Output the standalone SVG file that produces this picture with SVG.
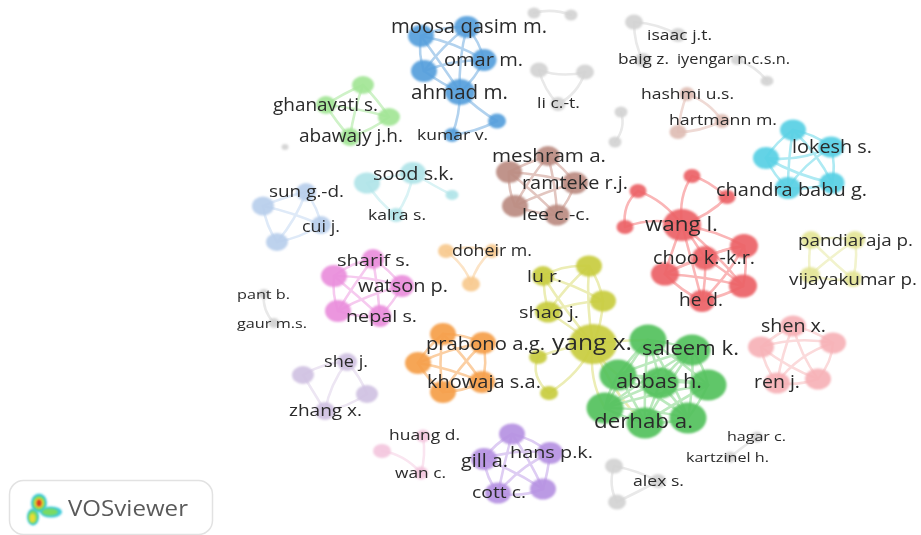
<svg xmlns="http://www.w3.org/2000/svg" width="921" height="535" viewBox="0 0 921 535">
<style>
text{font-family:"Open Sans","Liberation Sans",sans-serif;fill:#2a2a2a;filter:url(#t)}
ellipse{filter:url(#n);fill-opacity:.93}
#connectors{filter:url(#e)}
#connectors path{fill:none;stroke-width:2.6;stroke-linecap:round}
.blue path{stroke:#b2d2ee}.lgreen path{stroke:#cff2c8}.lcyan path{stroke:#daf3f5}.lblue path{stroke:#dfeaf8}
.brown path{stroke:#e2c6c0}.gray path{stroke:#e9e9e9}.rose path{stroke:#efdad5}.cyan path{stroke:#aeeaf3}
.red path{stroke:#fab6b7}.pale path{stroke:#f2f3cd}.olive path{stroke:#ecedb5}.green path{stroke:#bce9be}
.pink path{stroke:#fbdadb}.mag path{stroke:#f6caef}.lor path{stroke:#fce4c7}.or path{stroke:#fbcfa3}
.lav path{stroke:#ede6f3}.lp path{stroke:#fae5f0}.pur path{stroke:#decdf3}
.n-blue{fill:#559fdb}.n-lgreen{fill:#a2e596}.n-lcyan{fill:#b0e4e8}.n-lblue{fill:#b8cfec}.n-brown{fill:#bb8c82}
.n-gray{fill:#d3d3d3}.n-rose{fill:#dfbdb5}.n-cyan{fill:#57d0e4}.n-red{fill:#ec6266}.n-pale{fill:#e4e598}
.n-olive{fill:#c8cc3f}.n-green{fill:#54c25e}.n-pink{fill:#f6b2b7}.n-mag{fill:#ea8edb}.n-lor{fill:#f7c98f}
.n-or{fill:#f59f49}.n-lav{fill:#d0c2e2}.n-lp{fill:#f3c6de}.n-pur{fill:#b692e2}
</style>
<defs>
<filter id="n" filterUnits="userSpaceOnUse" x="0" y="0" width="921" height="535"><feGaussianBlur stdDeviation="0.8"/></filter>
<filter id="e" filterUnits="userSpaceOnUse" x="0" y="0" width="921" height="535"><feGaussianBlur stdDeviation="0.7"/></filter>
<filter id="t" filterUnits="userSpaceOnUse" x="0" y="0" width="921" height="535"><feGaussianBlur stdDeviation="0.35"/></filter>
</defs>
<g id="connectors">
<g class="blue">
<path d="M421 36Q444 26 467 27"/><path d="M421 36Q418 54 424 71"/><path d="M421 36Q455 42 484 60"/><path d="M421 36Q440 62 460 92"/><path d="M467 27Q480 42 484 60"/><path d="M467 27Q442 46 424 71"/><path d="M467 27Q458 60 460 92"/><path d="M484 60Q452 60 424 71"/><path d="M484 60Q476 78 460 92"/><path d="M424 71Q442 84 460 92"/><path d="M460 92Q478 110 497 121"/><path d="M460 92Q460 115 452 135"/><path d="M452 135Q476 132 497 121"/>
</g>
<g class="lgreen">
<path d="M363 85Q342 94 326 105"/><path d="M363 85Q378 100 389 117"/><path d="M363 85Q354 110 350 137"/><path d="M326 105Q358 108 389 117"/><path d="M326 105Q336 122 350 137"/><path d="M389 117Q372 130 350 137"/>
</g>
<g class="lcyan">
<path d="M413 173Q390 176 367 183"/><path d="M413 173Q434 186 452 195"/><path d="M413 173Q410 196 396 215"/><path d="M367 183Q378 202 396 215"/>
</g>
<g class="lblue">
<path d="M306 192Q284 197 263 206"/><path d="M306 192Q318 208 321 225"/><path d="M306 192Q296 220 277 242"/><path d="M263 206Q292 212 321 225"/><path d="M263 206Q266 226 277 242"/><path d="M321 225Q300 238 277 242"/>
</g>
<g class="brown">
<path d="M548 156Q528 162 509 172"/><path d="M548 156Q564 168 575 183"/><path d="M548 156Q528 180 515 206"/><path d="M548 156Q556 186 557 215"/><path d="M509 172Q542 174 575 183"/><path d="M509 172Q508 190 515 206"/><path d="M509 172Q534 192 557 215"/><path d="M575 183Q544 192 515 206"/><path d="M575 183Q570 200 557 215"/><path d="M515 206Q536 214 557 215"/>
</g>
<g class="gray">
<path d="M534 13Q552 8 571 15"/><path d="M539 70Q562 78 585 72"/><path d="M539 70Q544 90 558 104"/><path d="M585 72Q578 94 558 104"/><path d="M634 22Q660 24 678 35"/><path d="M634 22Q634 44 643 60"/><path d="M737 60Q756 66 767 81"/><path d="M621 112Q626 128 615 142"/><path d="M264 294Q262 310 274 323"/><path d="M757 437Q744 446 730 457"/><path d="M614 466Q636 470 658 481"/><path d="M614 466Q608 486 617 502"/><path d="M658 481Q638 492 617 502"/>
</g>
<g class="rose">
<path d="M687 94Q710 102 722 121"/><path d="M687 94Q680 112 678 132"/><path d="M722 121Q700 132 678 132"/>
</g>
<g class="cyan">
<path d="M793 130Q815 134 831 147"/><path d="M793 130Q776 142 766 158"/><path d="M793 130Q818 154 832 183"/><path d="M793 130Q788 160 788 188"/><path d="M831 147Q800 162 766 158"/><path d="M831 147Q836 166 832 183"/><path d="M831 147Q804 164 788 188"/><path d="M766 158Q798 176 832 183"/><path d="M766 158Q774 176 788 188"/><path d="M832 183Q810 190 788 188"/>
</g>
<g class="red">
<path d="M692 176Q708 180 727 197"/><path d="M692 176Q678 196 682 225"/><path d="M638 191Q622 204 625 227"/><path d="M638 191Q664 200 682 225"/><path d="M727 197Q710 215 682 225"/><path d="M625 227Q654 216 682 225"/><path d="M682 225Q716 230 744 246"/><path d="M682 225Q694 240 705 258"/><path d="M682 225Q672 250 665 274"/><path d="M682 225Q716 252 743 286"/><path d="M682 225Q692 262 702 301"/><path d="M744 246Q724 248 705 258"/><path d="M744 246Q702 254 665 274"/><path d="M744 246Q748 266 743 286"/><path d="M744 246Q728 276 702 301"/><path d="M705 258Q684 264 665 274"/><path d="M705 258Q724 270 743 286"/><path d="M705 258Q706 280 702 301"/><path d="M665 274Q704 276 743 286"/><path d="M665 274Q680 290 702 301"/><path d="M743 286Q724 296 702 301"/>
</g>
<g class="pale">
<path d="M811 240Q808 258 810 275"/><path d="M811 240Q832 262 853 279"/><path d="M811 240Q834 236 855 240"/><path d="M855 240Q832 256 810 275"/><path d="M855 240Q858 260 853 279"/><path d="M810 275Q832 282 853 279"/>
</g>
<g class="olive">
<path d="M543 276Q564 264 589 266"/><path d="M543 276Q574 284 603 301"/><path d="M543 276Q544 294 548 312"/><path d="M543 276Q566 312 593 344"/><path d="M589 266Q600 282 603 301"/><path d="M589 266Q566 286 548 312"/><path d="M589 266Q586 306 593 344"/><path d="M603 301Q574 302 548 312"/><path d="M603 301Q602 324 593 344"/><path d="M548 312Q570 326 593 344"/><path d="M593 344Q566 346 538 357"/><path d="M593 344Q580 374 549 393"/><path d="M538 357Q530 376 549 393"/><path d="M593 344Q620 340 648 340"/><path d="M593 344Q588 380 605 408"/><path d="M593 344Q600 362 618 375"/><path d="M593 344Q612 395 645 423"/>
</g>
<g class="green">
<path d="M648 340Q670 342 692 350"/><path d="M648 340Q632 356 618 375"/><path d="M648 340Q656 362 660 383"/><path d="M648 340Q680 360 708 385"/><path d="M648 340Q624 372 605 408"/><path d="M648 340Q644 382 645 423"/><path d="M648 340Q672 378 688 418"/><path d="M692 350Q654 360 618 375"/><path d="M692 350Q674 364 660 383"/><path d="M692 350Q704 366 708 385"/><path d="M692 350Q648 376 605 408"/><path d="M692 350Q666 386 645 423"/><path d="M692 350Q694 384 688 418"/><path d="M618 375Q640 376 660 383"/><path d="M618 375Q664 376 708 385"/><path d="M618 375Q608 392 605 408"/><path d="M618 375Q634 400 645 423"/><path d="M618 375Q656 394 688 418"/><path d="M660 383Q684 380 708 385"/><path d="M660 383Q632 392 605 408"/><path d="M660 383Q652 404 645 423"/><path d="M660 383Q676 400 688 418"/><path d="M708 385Q656 392 605 408"/><path d="M708 385Q676 402 645 423"/><path d="M708 385Q700 402 688 418"/><path d="M605 408Q624 418 645 423"/><path d="M605 408Q646 408 688 418"/><path d="M645 423Q666 424 688 418"/>
</g>
<g class="pink">
<path d="M793 326Q776 334 761 347"/><path d="M793 326Q814 330 833 343"/><path d="M793 326Q800 354 818 379"/><path d="M793 326Q782 354 777 383"/><path d="M761 347Q796 336 833 343"/><path d="M761 347Q788 368 818 379"/><path d="M761 347Q764 366 777 383"/><path d="M833 343Q832 362 818 379"/><path d="M833 343Q798 354 777 383"/><path d="M818 379Q798 386 777 383"/>
</g>
<g class="mag">
<path d="M373 259Q352 262 334 276"/><path d="M373 259Q390 270 402 286"/><path d="M373 259Q354 284 338 311"/><path d="M373 259Q378 288 380 316"/><path d="M334 276Q368 276 402 286"/><path d="M334 276Q332 294 338 311"/><path d="M334 276Q358 296 380 316"/><path d="M402 286Q368 294 338 311"/><path d="M402 286Q394 302 380 316"/><path d="M338 311Q360 318 380 316"/>
</g>
<g class="lor">
<path d="M446 251Q468 244 492 251"/><path d="M446 251Q466 266 471 284"/><path d="M492 251Q476 264 471 284"/>
</g>
<g class="or">
<path d="M443 334Q464 334 483 343"/><path d="M443 334Q428 346 418 363"/><path d="M443 334Q464 356 482 382"/><path d="M443 334Q438 364 443 392"/><path d="M483 343Q450 348 418 363"/><path d="M483 343Q488 364 482 382"/><path d="M483 343Q460 366 443 392"/><path d="M418 363Q450 368 482 382"/><path d="M418 363Q428 380 443 392"/><path d="M482 382Q462 392 443 392"/>
</g>
<g class="lav">
<path d="M347 362Q324 362 303 375"/><path d="M347 362Q360 376 367 394"/><path d="M347 362Q330 384 325 411"/><path d="M303 375Q316 396 325 411"/><path d="M367 394Q346 408 325 411"/>
</g>
<g class="lp">
<path d="M423 436Q426 456 421 473"/><path d="M382 451Q404 454 421 473"/>
</g>
<g class="pur">
<path d="M512 434Q494 444 484 459"/><path d="M512 434Q532 438 550 453"/><path d="M512 434Q530 460 543 489"/><path d="M512 434Q504 464 498 493"/><path d="M484 459Q516 448 550 453"/><path d="M484 459Q514 470 543 489"/><path d="M484 459Q486 478 498 493"/><path d="M550 453Q548 472 543 489"/><path d="M550 453Q520 466 498 493"/><path d="M543 489Q520 498 498 493"/>
</g>
</g>

<g id="nodes">
<g id="n-gray-a"><ellipse class="n-gray" cx="285" cy="147" rx="3.5" ry="3"/></g>
<g id="n-gray-b"><ellipse class="n-gray" cx="534" cy="13" rx="6.5" ry="5.5"/></g>
<g id="n-gray-c"><ellipse class="n-gray" cx="571" cy="15" rx="6.5" ry="5.5"/></g>
<g id="n-gray-d"><ellipse class="n-gray" cx="539" cy="70" rx="9" ry="7.5"/></g>
<g id="n-gray-e"><ellipse class="n-gray" cx="585" cy="72" rx="9" ry="7.5"/></g>
<g id="n-gray-f"><ellipse class="n-gray" cx="634" cy="22" rx="9" ry="7.5"/></g>
<g id="n-gray-g"><ellipse class="n-gray" cx="767" cy="81" rx="6.5" ry="5"/></g>
<g id="n-gray-h"><ellipse class="n-gray" cx="621" cy="112" rx="6.5" ry="5.5"/></g>
<g id="n-gray-i"><ellipse class="n-gray" cx="615" cy="142" rx="6.5" ry="5.5"/></g>
<g id="n-gray-j"><ellipse class="n-gray" cx="614" cy="466" rx="9" ry="7.5"/></g>
<g id="n-gray-k"><ellipse class="n-gray" cx="617" cy="502" rx="9" ry="7.5"/></g>
<g id="n-blue-a"><ellipse class="n-blue" cx="424" cy="71" rx="13" ry="11"/></g>
<g id="n-blue-b"><ellipse class="n-blue" cx="467" cy="27" rx="13" ry="11"/></g>
<g id="n-blue-c"><ellipse class="n-blue" cx="497" cy="121" rx="9" ry="7.5"/></g>
<g id="n-lgreen-a"><ellipse class="n-lgreen" cx="363" cy="85" rx="11" ry="9"/></g>
<g id="n-lgreen-b"><ellipse class="n-lgreen" cx="389" cy="117" rx="11" ry="9"/></g>
<g id="n-lcyan-a"><ellipse class="n-lcyan" cx="367" cy="183" rx="13" ry="10.5"/></g>
<g id="n-lcyan-b"><ellipse class="n-lcyan" cx="452" cy="195" rx="6.5" ry="5"/></g>
<g id="n-lblue-a"><ellipse class="n-lblue" cx="306" cy="192" rx="10" ry="9"/></g>
<g id="n-lblue-b"><ellipse class="n-lblue" cx="263" cy="206" rx="11" ry="9.5"/></g>
<g id="n-lblue-c"><ellipse class="n-lblue" cx="277" cy="242" rx="11" ry="9"/></g>
<g id="n-brown-a"><ellipse class="n-brown" cx="509" cy="172" rx="13" ry="11"/></g>
<g id="n-brown-b"><ellipse class="n-brown" cx="515" cy="206" rx="13" ry="11"/></g>
<g id="n-rose-a"><ellipse class="n-rose" cx="678" cy="132" rx="8.5" ry="7"/></g>
<g id="n-cyan-a"><ellipse class="n-cyan" cx="793" cy="130" rx="13" ry="10.5"/></g>
<g id="n-cyan-b"><ellipse class="n-cyan" cx="766" cy="158" rx="13" ry="11"/></g>
<g id="n-cyan-c"><ellipse class="n-cyan" cx="832" cy="183" rx="12.5" ry="10.5"/></g>
<g id="n-cyan-d"><ellipse class="n-cyan" cx="788" cy="188" rx="13" ry="11"/></g>
<g id="n-red-a"><ellipse class="n-red" cx="692" cy="176" rx="8.5" ry="7"/></g>
<g id="n-red-b"><ellipse class="n-red" cx="638" cy="191" rx="8.5" ry="7"/></g>
<g id="n-red-c"><ellipse class="n-red" cx="727" cy="197" rx="8.5" ry="7"/></g>
<g id="n-red-d"><ellipse class="n-red" cx="625" cy="227" rx="8.5" ry="7"/></g>
<g id="n-red-e"><ellipse class="n-red" cx="744" cy="246" rx="14" ry="12"/></g>
<g id="n-red-f"><ellipse class="n-red" cx="665" cy="274" rx="14" ry="11.5"/></g>
<g id="n-red-g"><ellipse class="n-red" cx="743" cy="286" rx="14" ry="11.5"/></g>
<g id="n-pale-a"><ellipse class="n-pale" cx="853" cy="279" rx="9" ry="8"/></g>
<g id="n-pale-b"><ellipse class="n-pale" cx="811" cy="240" rx="10" ry="9"/></g>
<g id="n-pale-c"><ellipse class="n-pale" cx="855" cy="240" rx="10" ry="9"/></g>
<g id="n-olive-a"><ellipse class="n-olive" cx="589" cy="266" rx="13" ry="10.5"/></g>
<g id="n-olive-b"><ellipse class="n-olive" cx="603" cy="301" rx="13" ry="10.5"/></g>
<g id="n-olive-c"><ellipse class="n-olive" cx="538" cy="357" rx="9" ry="7"/></g>
<g id="n-olive-d"><ellipse class="n-olive" cx="549" cy="393" rx="9" ry="7"/></g>
<g id="n-green-a"><ellipse class="n-green" cx="648" cy="340" rx="18.5" ry="15.5"/></g>
<g id="n-green-b"><ellipse class="n-green" cx="618" cy="375" rx="18.5" ry="15.5"/></g>
<g id="n-green-c"><ellipse class="n-green" cx="708" cy="385" rx="18.5" ry="15.5"/></g>
<g id="n-green-d"><ellipse class="n-green" cx="605" cy="408" rx="18.5" ry="15.5"/></g>
<g id="n-green-e"><ellipse class="n-green" cx="688" cy="418" rx="18.5" ry="15.5"/></g>
<g id="n-pink-a"><ellipse class="n-pink" cx="761" cy="347" rx="13" ry="10.5"/></g>
<g id="n-pink-b"><ellipse class="n-pink" cx="833" cy="343" rx="13" ry="10.5"/></g>
<g id="n-pink-c"><ellipse class="n-pink" cx="818" cy="379" rx="13" ry="10.5"/></g>
<g id="n-mag-a"><ellipse class="n-mag" cx="334" cy="276" rx="13" ry="11"/></g>
<g id="n-mag-b"><ellipse class="n-mag" cx="338" cy="311" rx="13" ry="11"/></g>
<g id="n-lor-a"><ellipse class="n-lor" cx="446" cy="251" rx="8" ry="7"/></g>
<g id="n-lor-b"><ellipse class="n-lor" cx="492" cy="251" rx="7" ry="7"/></g>
<g id="n-lor-c"><ellipse class="n-lor" cx="471" cy="284" rx="9" ry="7.5"/></g>
<g id="n-or-a"><ellipse class="n-or" cx="443" cy="334" rx="13" ry="11"/></g>
<g id="n-or-b"><ellipse class="n-or" cx="483" cy="343" rx="13" ry="11"/></g>
<g id="n-or-c"><ellipse class="n-or" cx="418" cy="363" rx="13" ry="11"/></g>
<g id="n-or-d"><ellipse class="n-or" cx="482" cy="382" rx="13" ry="11"/></g>
<g id="n-or-e"><ellipse class="n-or" cx="443" cy="392" rx="13" ry="11"/></g>
<g id="n-lav-a"><ellipse class="n-lav" cx="303" cy="375" rx="11" ry="9"/></g>
<g id="n-lav-b"><ellipse class="n-lav" cx="367" cy="394" rx="11" ry="9"/></g>
<g id="n-lp-a"><ellipse class="n-lp" cx="382" cy="451" rx="9" ry="7"/></g>
<g id="n-pur-a"><ellipse class="n-pur" cx="512" cy="434" rx="13" ry="10.5"/></g>
<g id="n-pur-b"><ellipse class="n-pur" cx="543" cy="489" rx="13" ry="10.5"/></g>

<g id="moosa"><ellipse class="n-blue" cx="421" cy="36" rx="13" ry="11"/><text x="391" y="33" font-size="19.5" textLength="156" lengthAdjust="spacingAndGlyphs">moosa qasim m.</text></g>
<g id="omar"><ellipse class="n-blue" cx="484" cy="60" rx="12.5" ry="11"/><text x="444" y="66" font-size="19" textLength="79" lengthAdjust="spacingAndGlyphs">omar m.</text></g>
<g id="ahmad"><ellipse class="n-blue" cx="460" cy="92" rx="15" ry="13"/><text x="411" y="99" font-size="20" textLength="97" lengthAdjust="spacingAndGlyphs">ahmad m.</text></g>
<g id="kumar"><ellipse class="n-blue" cx="452" cy="135" rx="8" ry="7"/><text x="417" y="140" font-size="15" textLength="71" lengthAdjust="spacingAndGlyphs">kumar v.</text></g>
<g id="ghanavati"><ellipse class="n-lgreen" cx="326" cy="105" rx="10" ry="9"/><text x="273" y="111" font-size="18" textLength="105" lengthAdjust="spacingAndGlyphs">ghanavati s.</text></g>
<g id="abawajy"><ellipse class="n-lgreen" cx="350" cy="137" rx="10" ry="9"/><text x="299" y="142" font-size="17.5" textLength="104" lengthAdjust="spacingAndGlyphs">abawajy j.h.</text></g>
<g id="sood"><ellipse class="n-lcyan" cx="413" cy="173" rx="13" ry="11"/><text x="373" y="180" font-size="18.5" textLength="81" lengthAdjust="spacingAndGlyphs">sood s.k.</text></g>
<g id="kalra"><ellipse class="n-lcyan" cx="396" cy="215" rx="8" ry="7"/><text x="368" y="220" font-size="15" textLength="58" lengthAdjust="spacingAndGlyphs">kalra s.</text></g>
<g id="sun"><text x="269" y="197" font-size="16" textLength="75" lengthAdjust="spacingAndGlyphs">sun g.-d.</text></g>
<g id="cui"><ellipse class="n-lblue" cx="321" cy="225" rx="10" ry="9"/><text x="302" y="232" font-size="17" textLength="38" lengthAdjust="spacingAndGlyphs">cui j.</text></g>
<g id="meshram"><ellipse class="n-brown" cx="548" cy="156" rx="12" ry="10"/><text x="492" y="162" font-size="18.5" textLength="114" lengthAdjust="spacingAndGlyphs">meshram a.</text></g>
<g id="ramteke"><ellipse class="n-brown" cx="575" cy="183" rx="13" ry="11"/><text x="522" y="189" font-size="17.5" textLength="106" lengthAdjust="spacingAndGlyphs">ramteke r.j.</text></g>
<g id="lee"><ellipse class="n-brown" cx="557" cy="215" rx="12.5" ry="10.5"/><text x="522" y="220" font-size="17" textLength="68" lengthAdjust="spacingAndGlyphs">lee c.-c.</text></g>
<g id="li"><ellipse class="n-gray" cx="558" cy="104" rx="7.5" ry="7"/><text x="537" y="108" font-size="14.5" textLength="43" lengthAdjust="spacingAndGlyphs">li c.-t.</text></g>
<g id="isaac"><ellipse class="n-gray" cx="678" cy="35" rx="8" ry="7"/><text x="647" y="40" font-size="14.5" textLength="65" lengthAdjust="spacingAndGlyphs">isaac j.t.</text></g>
<g id="baig"><ellipse class="n-gray" cx="643" cy="60" rx="8" ry="7"/><text x="618" y="64" font-size="15" textLength="51" lengthAdjust="spacingAndGlyphs">baig z.</text></g>
<g id="iyengar"><ellipse class="n-gray" cx="737" cy="60" rx="6" ry="5"/><text x="677" y="64" font-size="14" textLength="113" lengthAdjust="spacingAndGlyphs">iyengar n.c.s.n.</text></g>
<g id="hashmi"><ellipse class="n-rose" cx="687" cy="94" rx="7.5" ry="7"/><text x="641" y="99" font-size="14.5" textLength="93" lengthAdjust="spacingAndGlyphs">hashmi u.s.</text></g>
<g id="hartmann"><ellipse class="n-rose" cx="722" cy="121" rx="7.5" ry="7"/><text x="669" y="125" font-size="15" textLength="108" lengthAdjust="spacingAndGlyphs">hartmann m.</text></g>
<g id="lokesh"><ellipse class="n-cyan" cx="831" cy="147" rx="13" ry="10.5"/><text x="792" y="153" font-size="18" textLength="80" lengthAdjust="spacingAndGlyphs">lokesh s.</text></g>
<g id="chandra"><text x="716" y="196" font-size="18" textLength="151" lengthAdjust="spacingAndGlyphs">chandra babu g.</text></g>
<g id="wang"><ellipse class="n-red" cx="682" cy="225" rx="19" ry="16"/><text x="645" y="231" font-size="20" textLength="73" lengthAdjust="spacingAndGlyphs">wang l.</text></g>
<g id="choo"><ellipse class="n-red" cx="705" cy="258" rx="13" ry="12"/><text x="653" y="264" font-size="17.5" textLength="102" lengthAdjust="spacingAndGlyphs">choo k.-k.r.</text></g>
<g id="he"><ellipse class="n-red" cx="702" cy="301" rx="13" ry="11"/><text x="679" y="306" font-size="18" textLength="44" lengthAdjust="spacingAndGlyphs">he d.</text></g>
<g id="pandiaraja"><text x="798" y="246" font-size="17" textLength="115" lengthAdjust="spacingAndGlyphs">pandiaraja p.</text></g>
<g id="vijayakumar"><ellipse class="n-pale" cx="810" cy="275" rx="10" ry="8"/><text x="789" y="285" font-size="17" textLength="128" lengthAdjust="spacingAndGlyphs">vijayakumar p.</text></g>
<g id="lu"><ellipse class="n-olive" cx="543" cy="276" rx="11" ry="10"/><text x="527" y="282" font-size="17" textLength="35" lengthAdjust="spacingAndGlyphs">lu r.</text></g>
<g id="shao"><ellipse class="n-olive" cx="548" cy="312" rx="13" ry="10.5"/><text x="519" y="318" font-size="17" textLength="60" lengthAdjust="spacingAndGlyphs">shao j.</text></g>
<g id="yang"><ellipse class="n-olive" cx="593" cy="344" rx="24" ry="20"/><text x="552" y="350" font-size="22.5" textLength="80" lengthAdjust="spacingAndGlyphs">yang x.</text></g>
<g id="prabono"><text x="426" y="350" font-size="18" textLength="119" lengthAdjust="spacingAndGlyphs">prabono a.g.</text></g>
<g id="khowaja"><text x="427" y="388" font-size="18" textLength="114" lengthAdjust="spacingAndGlyphs">khowaja s.a.</text></g>
<g id="saleem"><ellipse class="n-green" cx="692" cy="350" rx="18.5" ry="15.5"/><text x="642" y="355" font-size="19.5" textLength="97" lengthAdjust="spacingAndGlyphs">saleem k.</text></g>
<g id="abbas"><ellipse class="n-green" cx="660" cy="383" rx="18.5" ry="15.5"/><text x="616" y="388" font-size="19.5" textLength="86" lengthAdjust="spacingAndGlyphs">abbas h.</text></g>
<g id="derhab"><ellipse class="n-green" cx="645" cy="423" rx="18.5" ry="15.5"/><text x="594" y="428" font-size="19.5" textLength="99" lengthAdjust="spacingAndGlyphs">derhab a.</text></g>
<g id="shen"><ellipse class="n-pink" cx="793" cy="326" rx="13" ry="10.5"/><text x="761" y="332" font-size="18" textLength="65" lengthAdjust="spacingAndGlyphs">shen x.</text></g>
<g id="ren"><ellipse class="n-pink" cx="777" cy="383" rx="13" ry="10.5"/><text x="754" y="388" font-size="18" textLength="46" lengthAdjust="spacingAndGlyphs">ren j.</text></g>
<g id="hagar"><ellipse class="n-gray" cx="757" cy="437" rx="6" ry="5.5"/><text x="727" y="441" font-size="13.5" textLength="59" lengthAdjust="spacingAndGlyphs">hagar c.</text></g>
<g id="kartzinel"><ellipse class="n-gray" cx="730" cy="457" rx="6" ry="5.5"/><text x="686" y="462" font-size="13.5" textLength="83" lengthAdjust="spacingAndGlyphs">kartzinel h.</text></g>
<g id="alex"><ellipse class="n-gray" cx="658" cy="481" rx="8" ry="7"/><text x="633" y="486" font-size="14" textLength="51" lengthAdjust="spacingAndGlyphs">alex s.</text></g>
<g id="hans"><ellipse class="n-pur" cx="550" cy="453" rx="13" ry="11"/><text x="510" y="458" font-size="17" textLength="83" lengthAdjust="spacingAndGlyphs">hans p.k.</text></g>
<g id="gill"><ellipse class="n-pur" cx="484" cy="459" rx="13" ry="11"/><text x="461" y="467" font-size="18" textLength="47" lengthAdjust="spacingAndGlyphs">gill a.</text></g>
<g id="cott"><ellipse class="n-pur" cx="498" cy="493" rx="13" ry="10.5"/><text x="472" y="498" font-size="17" textLength="54" lengthAdjust="spacingAndGlyphs">cott c.</text></g>
<g id="huang"><ellipse class="n-lp" cx="423" cy="436" rx="7" ry="6.5"/><text x="389" y="440" font-size="14.5" textLength="71" lengthAdjust="spacingAndGlyphs">huang d.</text></g>
<g id="wan"><ellipse class="n-lp" cx="421" cy="473" rx="7" ry="6.5"/><text x="395" y="478" font-size="14.5" textLength="51" lengthAdjust="spacingAndGlyphs">wan c.</text></g>
<g id="she"><ellipse class="n-lav" cx="347" cy="362" rx="10" ry="9"/><text x="324" y="367" font-size="16" textLength="44" lengthAdjust="spacingAndGlyphs">she j.</text></g>
<g id="zhang"><ellipse class="n-lav" cx="325" cy="411" rx="10" ry="9"/><text x="289" y="416" font-size="16" textLength="73" lengthAdjust="spacingAndGlyphs">zhang x.</text></g>
<g id="sharif"><ellipse class="n-mag" cx="373" cy="259" rx="11" ry="10"/><text x="337" y="266" font-size="17" textLength="73" lengthAdjust="spacingAndGlyphs">sharif s.</text></g>
<g id="watson"><ellipse class="n-mag" cx="402" cy="286" rx="12" ry="11"/><text x="358" y="292" font-size="17.5" textLength="90" lengthAdjust="spacingAndGlyphs">watson p.</text></g>
<g id="nepal"><ellipse class="n-mag" cx="380" cy="316" rx="11" ry="11"/><text x="346" y="322" font-size="17" textLength="71" lengthAdjust="spacingAndGlyphs">nepal s.</text></g>
<g id="doheir"><text x="452" y="256" font-size="15.5" textLength="80" lengthAdjust="spacingAndGlyphs">doheir m.</text></g>
<g id="pant"><ellipse class="n-gray" cx="264" cy="294" rx="5.5" ry="5"/><text x="237" y="299" font-size="13.5" textLength="53" lengthAdjust="spacingAndGlyphs">pant b.</text></g>
<g id="gaur"><ellipse class="n-gray" cx="274" cy="323" rx="5.5" ry="5"/><text x="237" y="328" font-size="13.5" textLength="70" lengthAdjust="spacingAndGlyphs">gaur m.s.</text></g>
</g>

<g id="logo">
<rect x="9.5" y="480.5" width="203" height="54" rx="14" fill="#fff" stroke="#e2e2e2" stroke-width="1.5"/>
<ellipse cx="39" cy="503" rx="8" ry="9.5" fill="#2fc6d6"/><ellipse cx="33" cy="517" rx="6" ry="8.5" fill="#2fc6d6"/><ellipse cx="51" cy="512" rx="11" ry="5.5" fill="#2fc6d6"/>
<ellipse cx="39" cy="503" rx="6" ry="7" fill="#7fdc57"/><ellipse cx="33" cy="517" rx="4.500" ry="6.500" fill="#7fdc57"/><ellipse cx="50" cy="512" rx="8" ry="3.500" fill="#7fdc57"/>
<ellipse cx="39" cy="503" rx="4.500" ry="5" fill="#f2dd30"/><ellipse cx="32.500" cy="518" rx="3" ry="4.500" fill="#f2dd30"/>
<ellipse cx="39" cy="503" rx="2.500" ry="3.500" fill="#d8261d"/>
<text x="68" y="516" font-size="22" textLength="120" lengthAdjust="spacingAndGlyphs" style="fill:#5a5a5a">VOSviewer</text>
</g>
</svg>
